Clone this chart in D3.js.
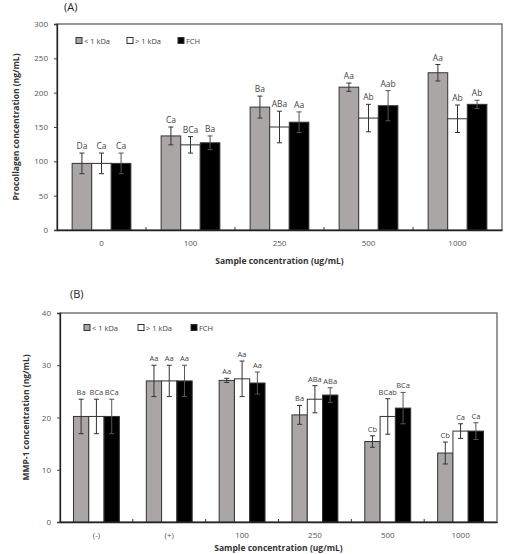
<!DOCTYPE html>
<html>
<head>
<meta charset="utf-8">
<script src="https://cdn.jsdelivr.net/npm/d3@7"></script>
<style>
  body { margin: 0; background: #fff; }
  svg text { font-family: "Open Sans", "Noto Sans", sans-serif; }
</style>
</head>
<body>
<div id="chart"></div>
<script>
// series shared by both panels
const seriesNames = ["< 1 kDa", "> 1 kDa", "FCH"];
const seriesColors = ["#aba6a6", "#ffffff", "#000000"];

// Panel A - procollagen
const groupsA = ["0", "100", "250", "500", "1000"];
const lowA = [97, 137, 179, 208, 229];
const lowErrA = [15, 13, 16, 6, 12];
const highA = [97, 124, 150, 163, 162];
const highErrA = [15, 12, 23, 20, 20];
const fchA = [97, 127, 157, 181, 183];
const fchErrA = [15, 10, 15, 22, 6];
const lowLabA = ["Da", "Ca", "Ba", "Aa", "Aa"];
const highLabA = ["Ca", "BCa", "ABa", "Ab", "Ab"];
const fchLabA = ["Ca", "Ba", "Aa", "Aab", "Ab"];
const ticksA = [0, 50, 100, 150, 200, 250, 300];

// Panel B - MMP-1
const groupsB = ["(-)", "(+)", "100", "250", "500", "1000"];
const lowB = [20.2, 27, 27.1, 20.5, 15.4, 13.2];
const lowErrB = [3.3, 3, 0.4, 1.8, 1.1, 2.1];
const highB = [20.2, 27, 27.4, 23.5, 20.2, 17.4];
const highErrB = [3.3, 3, 3.4, 2.6, 3.4, 1.4];
const fchB = [20.2, 27, 26.6, 24.3, 21.8, 17.4];
const fchErrB = [3.3, 3, 2.1, 1.4, 3, 1.6];
const lowLabB = ["Ba", "Aa", "Aa", "Ba", "Cb", "Cb"];
const highLabB = ["BCa", "Aa", "Aa", "ABa", "BCab", "Ca"];
const fchLabB = ["BCa", "Aa", "Aa", "ABa", "BCa", "Ca"];
const ticksB = [0, 10, 20, 30, 40];

const svg = d3.select("#chart")
    .append("svg")
    .attr("width", 511)
    .attr("height", 554);

function drawPanel(cfg) {
    const g = svg.append("g");

    const x0 = d3.scaleBand()
        .domain(cfg.groups)
        .range([cfg.left, cfg.right]);
    const step = x0.step();
    const x1 = d3.scaleBand()
        .domain(seriesNames)
        .range([step * cfg.inset, step * (1 - cfg.inset)]);
    const y = d3.scaleLinear()
        .domain([0, cfg.max])
        .range([cfg.bottom, cfg.top]);

    // rows: one per bar
    const rows = [];
    cfg.groups.forEach((grp, i) => {
        cfg.values.forEach((vals, s) => {
            rows.push({grp: grp, s: s, v: vals[i], e: cfg.errs[s][i], lab: cfg.labels[s][i]});
        });
    });

    // frame
    g.append("rect")
        .attr("x", cfg.left)
        .attr("y", cfg.top)
        .attr("width", cfg.right - cfg.left)
        .attr("height", cfg.bottom - cfg.top)
        .attr("fill", "none")
        .attr("stroke", "#555")
        .attr("stroke-width", 1.2);

    // bars
    g.selectAll(".bar")
        .data(rows)
        .enter()
        .append("rect")
        .attr("x", d => x0(d.grp) + x1(seriesNames[d.s]))
        .attr("y", d => y(d.v))
        .attr("width", x1.bandwidth())
        .attr("height", d => cfg.bottom - y(d.v))
        .attr("fill", d => seriesColors[d.s])
        .attr("stroke", "#333")
        .attr("stroke-width", 1);

    // error bars
    const cx = d => x0(d.grp) + x1(seriesNames[d.s]) + x1.bandwidth() / 2;
    const err = g.selectAll(".err")
        .data(rows)
        .enter()
        .append("g")
        .attr("stroke", d => d.s === 2 ? "#555" : "#333")
        .attr("stroke-width", 1);
    err.append("line")
        .attr("x1", cx).attr("x2", cx)
        .attr("y1", d => y(d.v + d.e))
        .attr("y2", d => y(d.v - d.e));
    err.append("line")
        .attr("x1", d => cx(d) - 2.5).attr("x2", d => cx(d) + 2.5)
        .attr("y1", d => y(d.v + d.e)).attr("y2", d => y(d.v + d.e));
    err.append("line")
        .attr("x1", d => cx(d) - 2.5).attr("x2", d => cx(d) + 2.5)
        .attr("y1", d => y(d.v - d.e)).attr("y2", d => y(d.v - d.e));

    // letters
    g.selectAll(".lab")
        .data(rows)
        .enter()
        .append("text")
        .attr("x", cx)
        .attr("y", d => y(d.v + d.e) - 4)
        .attr("text-anchor", "middle")
        .attr("font-size", cfg.labSize)
        .attr("fill", "#444")
        .text(d => d.lab);

    // y axis
    const yAxis = g.append("g")
        .attr("transform", `translate(${cfg.left},0)`)
        .call(d3.axisLeft(y).tickValues(cfg.ticks).tickSize(3).tickPadding(6));
    yAxis.select(".domain").attr("stroke", "#222").attr("stroke-width", 1.3);
    yAxis.selectAll("line").attr("stroke", "#444");
    yAxis.selectAll("text").attr("font-size", 8).attr("fill", "#555");

    // x axis: labels under bands, small inner ticks at band boundaries
    const xAxis = g.append("g")
        .attr("transform", `translate(0,${cfg.bottom})`)
        .call(d3.axisBottom(x0).tickSize(0).tickPadding(10));
    xAxis.select(".domain").attr("stroke", "#222").attr("stroke-width", 1.3);
    xAxis.selectAll("text").attr("font-size", 8).attr("fill", "#555");
    g.selectAll(".xtick")
        .data(cfg.groups.slice(1))
        .enter()
        .append("line")
        .attr("x1", d => x0(d)).attr("x2", d => x0(d))
        .attr("y1", cfg.bottom).attr("y2", cfg.bottom - 3)
        .attr("stroke", "#333");

    // axis titles
    g.append("text")
        .attr("transform", `translate(${cfg.yTitleX},${(cfg.top + cfg.bottom) / 2}) rotate(-90)`)
        .attr("text-anchor", "middle")
        .attr("font-size", 8.5)
        .attr("font-weight", "bold")
        .attr("fill", "#333")
        .text(cfg.yTitle);
    g.append("text")
        .attr("x", (cfg.left + cfg.right) / 2)
        .attr("y", cfg.xTitleY)
        .attr("text-anchor", "middle")
        .attr("font-size", 8.5)
        .attr("font-weight", "bold")
        .attr("fill", "#333")
        .text("Sample concentration (ug/mL)");

    // panel letter
    g.append("text")
        .attr("x", cfg.panelX)
        .attr("y", cfg.panelY)
        .attr("font-size", 11)
        .attr("fill", "#222")
        .text(cfg.panel);

    // legend
    const leg = g.selectAll(".leg")
        .data(seriesNames)
        .enter()
        .append("g")
        .attr("transform", (d, i) => `translate(${cfg.legX[i]},${cfg.legY})`);
    leg.append("rect")
        .attr("x", 0).attr("y", -3.5)
        .attr("width", 6).attr("height", 6)
        .attr("fill", (d, i) => seriesColors[i])
        .attr("stroke", "#333")
        .attr("stroke-width", 1);
    leg.append("text")
        .attr("x", 8)
        .attr("y", 2.5)
        .attr("font-size", 7.5)
        .attr("fill", "#444")
        .text(d => d);
}

drawPanel({
    panel: "(A)", panelX: 64, panelY: 11,
    groups: groupsA,
    values: [lowA, highA, fchA],
    errs: [lowErrA, highErrA, fchErrA],
    labels: [lowLabA, highLabA, fchLabA],
    ticks: ticksA, max: 300,
    left: 57, right: 502, top: 24, bottom: 230,
    inset: 0.17, labSize: 8.5,
    yTitle: "Procollagen concentration (ng/mL)", yTitleX: 19,
    xTitleY: 264,
    legX: [76, 127, 178], legY: 41
});

drawPanel({
    panel: "(B)", panelX: 70, panelY: 298,
    groups: groupsB,
    values: [lowB, highB, fchB],
    errs: [lowErrB, highErrB, fchErrB],
    labels: [lowLabB, highLabB, fchLabB],
    ticks: ticksB, max: 40,
    left: 60, right: 497, top: 313, bottom: 522,
    inset: 0.185, labSize: 7.5,
    yTitle: "MMP-1 concentration (ng/mL)", yTitleX: 29,
    xTitleY: 551,
    legX: [84, 138, 191], legY: 328
});
</script>
</body>
</html>
